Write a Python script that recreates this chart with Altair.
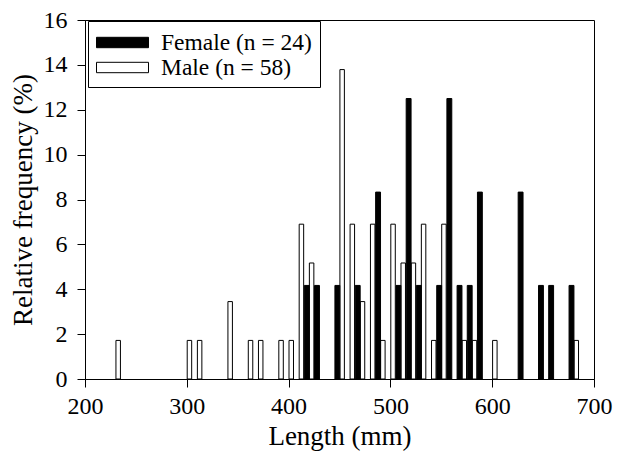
import altair as alt
import pandas as pd

# 10-mm length classes (lower edge, mm) and relative frequencies (%)
female_bins = [410, 420, 440, 460, 480, 500, 510, 520, 540, 550, 560, 570, 580, 620, 640, 650, 670]
female_pct = [4.17, 4.17, 4.17, 4.17, 8.33, 4.17, 12.5, 4.17, 4.17, 12.5, 4.17, 4.17, 8.33, 8.33, 4.17, 4.17, 4.17]

male_bins = [230, 300, 310, 340, 360, 370, 390, 400, 410, 420, 450, 460, 470, 480, 490,
             500, 510, 520, 530, 540, 550, 570, 580, 600, 680]
male_pct = [1.72, 1.72, 1.72, 3.45, 1.72, 1.72, 1.72, 1.72, 6.90, 5.17, 13.79, 6.90, 3.45, 6.90, 1.72,
            6.90, 5.17, 5.17, 6.90, 1.72, 6.90, 1.72, 1.72, 1.72, 1.72]

series = ["Female (n = 24)", "Male (n = 58)"]
x_ticks = [200, 300, 400, 500, 600, 700]
y_ticks = [0, 2, 4, 6, 8, 10, 12, 14, 16]

rows = []
for b, p in zip(male_bins, male_pct):
    rows.append({"sex": series[1], "bin": b, "pct": p, "side": 0})
for b, p in zip(female_bins, female_pct):
    rows.append({"sex": series[0], "bin": b, "pct": p, "side": 1})
df = pd.DataFrame(rows)

FONT = "Liberation Serif"

axis_style = dict(labelFont=FONT, labelFontSize=24, labelColor="black",
                  titleFont=FONT, titleFontSize=27, titleFontWeight="normal",
                  titleColor="black", grid=False, domainColor="black",
                  tickColor="black", tickSize=8, labelFlush=False)

chart = (
    alt.Chart(df)
    .transform_calculate(
        lo="datum.side == 0 ? datum.bin + 0.4 : datum.bin + 5.5",
        hi="datum.side == 0 ? datum.bin + 4.8 : datum.bin + 10.3",
    )
    .mark_rect(stroke="black", strokeWidth=1)
    .encode(
        x=alt.X("lo:Q",
                scale=alt.Scale(domain=[200, 700], nice=False, zero=False),
                axis=alt.Axis(values=x_ticks, title="Length (mm)", labelPadding=7,
                              titlePadding=5, format="d", **axis_style)),
        x2="hi:Q",
        y=alt.Y("pct:Q",
                scale=alt.Scale(domain=[0, 16], nice=False),
                axis=alt.Axis(values=y_ticks, title="Relative frequency (%)", labelPadding=10,
                              titlePadding=6, **axis_style)),
        y2=alt.datum(0),
        color=alt.Color("sex:N",
                        scale=alt.Scale(domain=series, range=["black", "white"]),
                        legend=alt.Legend(
                            title=None, orient="none", legendX=3, legendY=1,
                            strokeColor="black", fillColor="white", padding=8,
                            symbolType="M-2,-0.4L2,-0.4L2,0.4L-2,0.4Z",
                            symbolSize=676, symbolOffset=13, symbolStrokeColor="black",
                            symbolStrokeWidth=1, symbolOpacity=1,
                            labelFont=FONT, labelFontSize=23.5, labelColor="black",
                            labelOffset=25, rowPadding=-1, labelLimit=400)),
        order=alt.Order("side:Q"),
    )
    .properties(
        width=509, height=359,
        autosize=alt.AutoSizeParams(type="none"),
        padding={"left": 77, "top": 12, "right": 20, "bottom": 80},
    )
    .configure_view(stroke="black", strokeWidth=1)
)

chart.save("out.html", embed_options={"renderer": "svg", "actions": False})
